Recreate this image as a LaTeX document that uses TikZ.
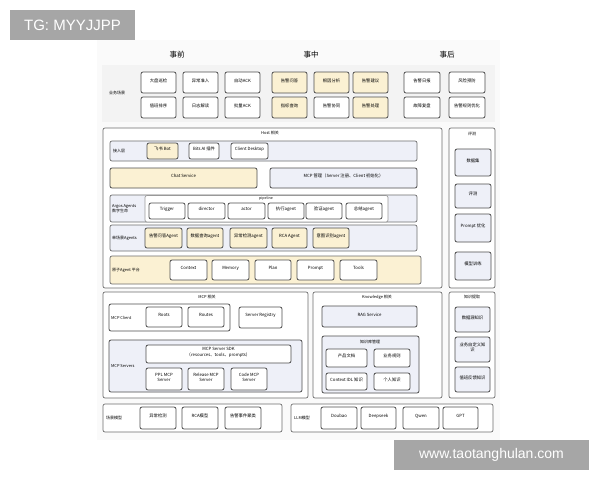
\documentclass[tikz,border=0pt]{standalone}
\usepackage{fontspec}
\setmainfont{Noto Sans CJK SC}
\newfontfamily\wmfont{Liberation Sans}
\usetikzlibrary{fit}
\definecolor{yel}{HTML}{FBF1D3}
\definecolor{lav}{HTML}{EEF0F8}
\definecolor{bordc}{HTML}{4D4D4D}
\definecolor{regc}{HTML}{6E6E6E}
\definecolor{bandc}{HTML}{F3F3F3}
\definecolor{wmc}{HTML}{A6A6A6}
\newcommand\bx[7]{\node[#2, fit={(#3,#4)(#5,#6)}] (#1) {#7};}
\tikzset{
  wbox/.style={draw=bordc, line width=0.8pt, rounded corners=2pt, fill=white, inner sep=0pt, align=center, font=\fontsize{4.3}{5.2}\selectfont},
  ybox/.style={wbox, fill=yel},
  lbox/.style={wbox, fill=lav},
  region/.style={draw=regc, line width=0.7pt, rounded corners=2pt, fill=white, inner sep=0pt},
  lregion/.style={region, fill=lav},
  yregion/.style={region, fill=yel},
  lab/.style={inner sep=0pt, align=left, font=\fontsize{4}{5}\selectfont},
  hdr/.style={inner sep=0pt, font=\fontsize{7.5}{9}\selectfont},
}
\begin{document}
\begin{tikzpicture}[x=1pt,y=-1pt]
\useasboundingbox (0,0) rectangle (600,480);
\fill[white] (0,0) rectangle (600,480);
\fill[white!98!black] (97,40) rectangle (500,440);
% watermarks
\node[fill=wmc, text=white, font=\wmfont\fontsize{15}{16}\selectfont, inner sep=0pt, minimum width=125pt, minimum height=30pt] (wm1) at (72.5,25) {TG: MYYJJPP};
% headers
\node[hdr] (hpre) at (177,55) {事前};
\node[hdr] (hmid) at (311,55) {事中};
\node[hdr] (hpost) at (447,55) {事后};
% business band
\fill[bandc] (102,65) rectangle (495,122);
\node[lab] (biz) at (117,93) {业务场景};
\bx{b1}{wbox}{141}{72}{176}{93}{大盘巡检}
\bx{b2}{wbox}{183}{72}{218}{93}{异常准入}
\bx{b3}{wbox}{225}{72}{260}{93}{自动ACK}
\bx{b4}{ybox}{272}{72}{307}{93}{告警问答}
\bx{b5}{ybox}{314}{72}{349}{93}{根因分析}
\bx{b6}{ybox}{353}{72}{388}{93}{告警建议}
\bx{b7}{wbox}{404}{72}{440}{93}{告警日报}
\bx{b8}{wbox}{449}{72}{485}{93}{风险预防}
\bx{c1}{wbox}{141}{97}{176}{118}{值班排序}
\bx{c2}{wbox}{183}{97}{218}{118}{日志解读}
\bx{c3}{wbox}{225}{97}{260}{118}{批量ACK}
\bx{c4}{ybox}{272}{97}{307}{118}{指标查询}
\bx{c5}{wbox}{314}{97}{349}{118}{告警协同}
\bx{c6}{ybox}{353}{97}{388}{118}{告警处理}
\bx{c7}{wbox}{404}{97}{440}{118}{故障复盘}
\bx{c8}{wbox}{449}{97}{485}{118}{告警规则优化}
% Host region
\node[region, fit={(103,128)(442,288)}] (host) {};
\node[lab] (hostl) at (270,133) {Host 相关};
% access layer
\node[lregion, fit={(110,141)(417,161)}] (acc) {};
\node[lab, anchor=west] (accl) at (113,151) {接入层};
\bx{a1}{ybox}{147}{143}{178}{159}{飞书 Bot}
\bx{a2}{wbox}{189}{143}{219}{159}{Bits AI 插件}
\bx{a3}{wbox}{231}{143}{268}{159}{Client Desktop}
% chat service / MCP manage
\bx{chat}{ybox}{110}{168}{257}{188}{Chat Service}
\bx{mcpm}{lbox}{270}{168}{417}{188}{MCP 管理（Server 注册、Client 初始化）}
% Argos
\node[lregion, fit={(110,195)(417,222)}] (argos) {};
\node[lab, anchor=west] (argosl) at (112,208.5) {Argos Agents\\数字生命};
\node[region, draw=regc!70, fit={(145,195.5)(388,222)}] (pipe) {};
\node[lab, font=\fontsize{3.6}{4}\selectfont] (pipel) at (266,198.8) {pipeline};
\bx{p1}{wbox}{149}{203}{185}{219}{Trigger}
\bx{p2}{wbox}{188}{203}{225}{219}{director}
\bx{p3}{wbox}{228}{203}{265}{219}{actor}
\bx{p4}{wbox}{268}{203}{304}{219}{执行agent}
\bx{p5}{wbox}{306}{203}{342}{219}{验证agent}
\bx{p6}{wbox}{346}{203}{382}{219}{总结agent}
% single scene agents
\node[lregion, fit={(110,225)(417,251)}] (single) {};
\node[lab, anchor=west] (singlel) at (112,238) {单场景Agents};
\bx{s1}{ybox}{145}{228}{182}{248}{告警问答Agent}
\bx{s2}{ybox}{187}{228}{223}{248}{数据查询agent}
\bx{s3}{ybox}{230}{228}{267}{248}{异常检测agent}
\bx{s4}{ybox}{272}{228}{307}{248}{RCA Agent}
\bx{s5}{ybox}{313}{228}{349}{248}{意图识别agent}
% atomic agent platform
\node[yregion, fit={(110,256)(421,284)}] (atom) {};
\node[lab, anchor=west] (atoml) at (112,270) {原子Agent 平台};
\bx{t1}{wbox}{170}{260}{207}{280}{Context}
\bx{t2}{wbox}{212}{260}{249}{280}{Memory}
\bx{t3}{wbox}{255}{260}{291}{280}{Plan}
\bx{t4}{wbox}{297}{260}{334}{280}{Prompt}
\bx{t5}{wbox}{340}{260}{377}{280}{Tools}
% evaluation column
\node[region, fit={(449,128)(495,288)}] (eval) {};
\node[lab] (evall) at (472,134) {评测};
\bx{e1}{lbox}{455}{149}{491}{176}{数据集}
\bx{e2}{lbox}{455}{184}{491}{208}{评测}
\bx{e3}{lbox}{455}{214}{491}{242}{Prompt 优化}
\bx{e4}{lbox}{455}{252}{491}{280}{模型训练}
% MCP region
\node[region, fit={(103,292)(308,398)}] (mcp) {};
\node[lab] (mcpl) at (207,297) {MCP 相关};
\node[region, draw=bordc, line width=0.8pt, fit={(109,304)(230,331)}] (mcpc) {};
\node[lab, anchor=west] (mcpcl) at (111,317.5) {MCP Client};
\bx{r1}{wbox}{146}{307}{182}{327}{Roots}
\bx{r2}{wbox}{188}{307}{224}{327}{Routes}
\bx{reg}{wbox}{239}{307}{282}{328}{Server Registry}
\node[lregion, draw=bordc, line width=0.8pt, fit={(109,340)(302,392)}] (mcps) {};
\node[lab, anchor=west] (mcpsl) at (111,366) {MCP Servers};
\bx{sdk}{wbox}{146}{345}{291}{363}{MCP Server SDK\\（resources、tools、prompts）}
\bx{m1}{wbox}{146}{368}{182}{390}{PPL MCP\\Server}
\bx{m2}{wbox}{188}{368}{224}{390}{Release MCP\\Server}
\bx{m3}{wbox}{231}{368}{267}{390}{Code MCP\\Server}
% Knowledge region
\node[region, fit={(313,292)(442,398)}] (know) {};
\node[lab] (knowl) at (377,297) {Knowledge 相关};
\bx{rag}{lbox}{322}{306}{417}{327}{RAG Service}
\node[lregion, draw=bordc, line width=0.8pt, fit={(322,336)(419,393)}] (kb) {};
\node[lab] (kbl) at (370,342) {知识库管理};
\bx{k1}{wbox}{326}{349}{367}{367}{产品文档}
\bx{k2}{wbox}{374}{349}{410}{367}{业务规则}
\bx{k3}{wbox}{326}{373}{367}{390}{Context IDL 知识}
\bx{k4}{wbox}{374}{373}{410}{390}{个人知识}
% knowledge extraction
\node[region, fit={(449,292)(495,398)}] (kex) {};
\node[lab] (kexl) at (472,297) {知识提取};
\bx{x1}{lbox}{455}{307}{490}{332}{数据源知识}
\bx{x2}{lbox}{455}{337}{490}{362}{业务自定义知\\识}
\bx{x3}{lbox}{455}{367}{490}{392}{值班反馈知识}
% bottom
\node[region, fit={(103,404)(282,432)}] (scm) {};
\node[lab, anchor=west] (scml) at (106,418) {场景模型};
\bx{sm1}{wbox}{140}{407}{176}{429}{异常检测}
\bx{sm2}{wbox}{182}{407}{218}{429}{RCA模型}
\bx{sm3}{wbox}{225}{407}{261}{429}{告警事件聚类}
\node[region, fit={(291,404)(493,432)}] (llm) {};
\node[lab, anchor=west] (llml) at (294,418) {LLM模型};
\bx{l1}{wbox}{321}{407}{357}{429}{Doubao}
\bx{l2}{wbox}{361}{407}{396}{429}{Deepseek}
\bx{l3}{wbox}{403}{407}{439}{429}{Qwen}
\bx{l4}{wbox}{443}{407}{478}{429}{GPT}
\node[fill=wmc, text=white, font=\wmfont\fontsize{14}{15}\selectfont, inner sep=0pt, minimum width=195pt, minimum height=30pt] (wm2) at (491.5,455) {www.taotanghulan.com};
\end{tikzpicture}
\end{document}
